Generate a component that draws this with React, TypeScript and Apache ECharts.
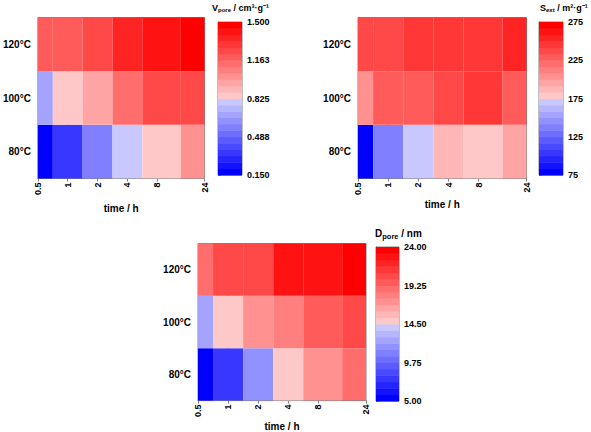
import React, { useEffect, useRef } from "react";
import * as echarts from "echarts";

// ---- data ----
const temps = ["80°C", "100°C", "120°C"];
const times = [0.5, 1, 2, 4, 8, 24];
const timeLabels = ["0.5", "1", "2", "4", "8", "24"];

// rows: 80°C, 100°C, 120°C ; columns: times
const vpore80 = [0.16, 0.32, 0.555, 0.79, 0.84, 1.03];
const vpore100 = [0.69, 0.84, 0.96, 1.145, 1.26, 1.26];
const vpore120 = [1.17, 1.17, 1.26, 1.36, 1.4, 1.49];

const sext80 = [77, 135, 170, 185, 178, 198];
const sext100 = [200, 225, 225, 240, 245, 232];
const sext120 = [237, 237, 247, 247, 247, 257];

const dpore80 = [5.1, 7.4, 11.6, 15.0, 17.1, 19.0];
const dpore100 = [12.6, 14.7, 16.9, 18.3, 19.7, 20.4];
const dpore120 = [18.8, 20.2, 20.2, 22.6, 22.8, 23.9];

const vporeTicks = [0.15, 0.488, 0.825, 1.163, 1.5];
const sextTicks = [75, 125, 175, 225, 275];
const dporeTicks = [5, 9.75, 14.5, 19.25, 24];

const NBINS = 24;

function binColor(i: number): string {
  if (i < NBINS / 2) {
    const c = Math.round((i * 200) / (NBINS / 2 - 1));
    return `rgb(${c},${c},255)`;
  }
  const j = i - NBINS / 2;
  const c = Math.round(200 - (j * 200) / (NBINS / 2 - 1));
  return `rgb(255,${c},${c})`;
}

function valueColor(v: number, min: number, max: number): string {
  let i = Math.floor(((v - min) / (max - min)) * NBINS);
  if (i < 0) i = 0;
  if (i > NBINS - 1) i = NBINS - 1;
  return binColor(i);
}

const logTimes = times.map((t) => Math.log2(t));
function colBounds(c: number): [number, number] {
  const lo = c === 0 ? logTimes[0] : (logTimes[c - 1] + logTimes[c]) / 2;
  const hi =
    c === logTimes.length - 1
      ? logTimes[logTimes.length - 1]
      : (logTimes[c] + logTimes[c + 1]) / 2;
  return [lo, hi];
}

const FONT = "'Liberation Sans', Arial, sans-serif";
const GRAY = "#808080";

export default function App() {
  const ref = useRef<HTMLDivElement>(null);

  useEffect(() => {
    document.body.style.margin = "0";
    if (!ref.current) return;
    const chart = echarts.init(ref.current, undefined, { renderer: "svg" });

    const panels = [
      {
        rows: [vpore80, vpore100, vpore120],
        ticks: vporeTicks,
        dec: 3,
        plot: { left: 36, top: 17.5, width: 168.5, height: 161 },
        bar: { left: 218, top: 22, width: 24, height: 153 },
        nameGap: 25,
        title: { text: "{b|V}{s|pore}{b| / cm³·g⁻¹}", left: 212, top: 2, fs: 9, ss: 6 },
      },
      {
        rows: [sext80, sext100, sext120],
        ticks: sextTicks,
        dec: 0,
        plot: { left: 358, top: 17.5, width: 168.5, height: 161 },
        bar: { left: 539, top: 22, width: 24, height: 153 },
        nameGap: 21,
        title: { text: "{b|S}{s|ext}{b| / m²·g⁻¹}", left: 540, top: 2, fs: 9, ss: 6 },
      },
      {
        rows: [dpore80, dpore100, dpore120],
        ticks: dporeTicks,
        dec: 2,
        plot: { left: 198, top: 243.5, width: 168, height: 160 },
        bar: { left: 376, top: 247, width: 23, height: 154 },
        nameGap: 20,
        title: { text: "{b|D}{s|pore}{b| / nm}", left: 375, top: 227, fs: 10, ss: 7.5 },
      },
    ];

    const grid: any[] = [];
    const xAxis: any[] = [];
    const yAxis: any[] = [];
    const series: any[] = [];
    const title: any[] = [];

    panels.forEach((p) => {
      const min = p.ticks[0];
      const max = p.ticks[p.ticks.length - 1];
      const gi = grid.length;
      grid.push({
        ...p.plot,
        show: true,
        borderColor: GRAY,
        borderWidth: 1,
        backgroundColor: "transparent",
      });
      xAxis.push({
        gridIndex: gi,
        type: "value",
        min: logTimes[0],
        max: logTimes[logTimes.length - 1],
        splitLine: { show: false },
        axisLine: { show: true, lineStyle: { color: GRAY } },
        axisTick: {
          show: true,
          length: 3,
          customValues: logTimes,
          lineStyle: { color: GRAY },
        },
        axisLabel: {
          customValues: logTimes,
          rotate: 90,
          margin: 4,
          fontFamily: FONT,
          fontWeight: "bold",
          fontSize: 9,
          color: "#000",
          formatter: (v: number) => {
            const idx = logTimes.findIndex((t) => Math.abs(t - v) < 1e-6);
            return idx >= 0 ? timeLabels[idx] : "";
          },
        },
        name: "time / h",
        nameLocation: "middle",
        nameGap: p.nameGap,
        nameTextStyle: {
          fontFamily: FONT,
          fontWeight: "bold",
          fontSize: 10,
          color: "#000",
        },
      });
      yAxis.push({
        gridIndex: gi,
        type: "category",
        data: temps,
        axisLine: { show: true, lineStyle: { color: GRAY } },
        axisTick: {
          show: true,
          alignWithLabel: true,
          length: 3,
          lineStyle: { color: GRAY },
        },
        axisLabel: {
          margin: 7,
          fontFamily: FONT,
          fontWeight: "bold",
          fontSize: 10,
          color: "#000",
        },
      });
      const data: any[] = [];
      p.rows.forEach((row, r) => {
        row.forEach((v, c) => {
          data.push([logTimes[c], r, v, c]);
        });
      });
      series.push({
        type: "custom",
        xAxisIndex: gi,
        yAxisIndex: gi,
        encode: { x: 0, y: 1 },
        data,
        renderItem: (params: any, api: any) => {
          const r = api.value(1);
          const v = api.value(2);
          const c = api.value(3);
          const [lo, hi] = colBounds(c);
          const p1 = api.coord([lo, r]);
          const p2 = api.coord([hi, r]);
          const h = api.size([0, 1])[1];
          return {
            type: "rect",
            shape: {
              x: p1[0],
              y: p1[1] - h / 2,
              width: p2[0] - p1[0],
              height: h,
            },
            style: { fill: valueColor(v, min, max), stroke: null },
          };
        },
        z: 1,
      });

      // colorbar
      const bi = grid.length;
      grid.push({
        ...p.bar,
        show: true,
        borderColor: GRAY,
        borderWidth: 1,
        backgroundColor: "transparent",
      });
      xAxis.push({
        gridIndex: bi,
        type: "value",
        min: 0,
        max: 1,
        show: false,
        splitLine: { show: false },
      });
      yAxis.push({
        gridIndex: bi,
        type: "value",
        position: "right",
        min,
        max,
        splitLine: { show: false },
        axisLine: { show: true, lineStyle: { color: GRAY } },
        axisTick: {
          show: true,
          length: 3,
          customValues: p.ticks,
          lineStyle: { color: GRAY },
        },
        axisLabel: {
          customValues: p.ticks,
          margin: 5,
          fontFamily: FONT,
          fontWeight: "bold",
          fontSize: 9,
          color: "#000",
          formatter: (v: number) => v.toFixed(p.dec),
        },
      });
      const bins: any[] = [];
      const w = (max - min) / NBINS;
      for (let i = 0; i < NBINS; i++) {
        bins.push([0.5, min + (i + 0.5) * w, i, min + i * w, min + (i + 1) * w]);
      }
      series.push({
        type: "custom",
        xAxisIndex: bi,
        yAxisIndex: bi,
        encode: { x: 0, y: 1 },
        data: bins,
        renderItem: (params: any, api: any) => {
          const i = api.value(2);
          const p1 = api.coord([0, api.value(4)]);
          const p2 = api.coord([1, api.value(3)]);
          return {
            type: "rect",
            shape: {
              x: p1[0],
              y: p1[1],
              width: p2[0] - p1[0],
              height: p2[1] - p1[1] + 0.5,
            },
            style: { fill: binColor(i), stroke: null },
          };
        },
        z: 1,
      });

      title.push({
        text: p.title.text,
        left: p.title.left,
        top: p.title.top,
        padding: 0,
        textStyle: {
          rich: {
            b: {
              fontFamily: FONT,
              fontWeight: "bold",
              fontSize: p.title.fs,
              color: "#000",
            },
            s: {
              fontFamily: FONT,
              fontWeight: "bold",
              fontSize: p.title.ss,
              color: "#000",
              padding: [5, 0, 0, 0],
            },
          },
        },
      });
    });

    chart.setOption({
      animation: false,
      backgroundColor: "#fff",
      title,
      grid,
      xAxis,
      yAxis,
      series,
    });

    return () => chart.dispose();
  }, []);

  return <div ref={ref} style={{ width: 591, height: 432 }} />;
}
